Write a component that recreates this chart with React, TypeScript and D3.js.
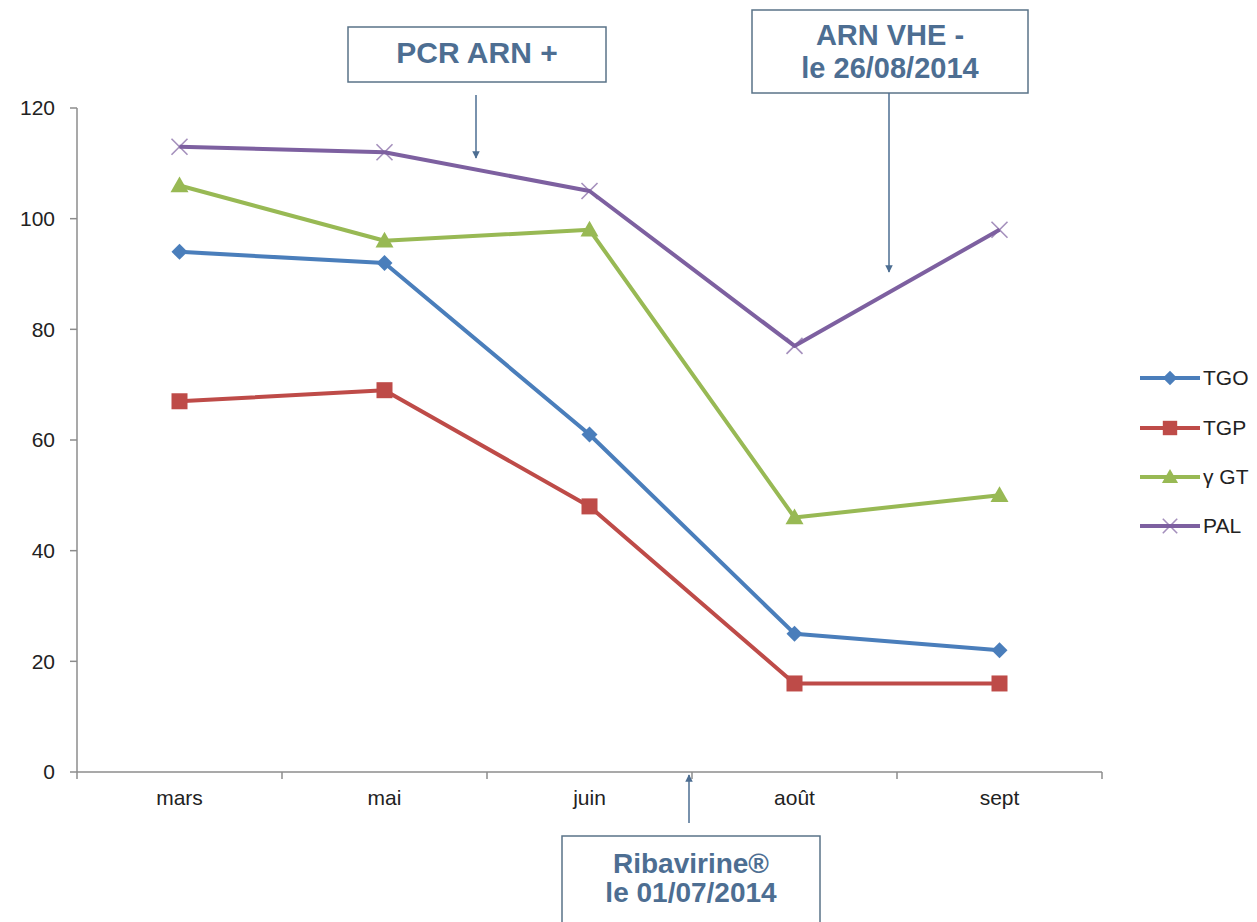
import React from "react";
import * as d3 from "d3";

const categories = ["mars", "mai", "juin", "août", "sept"];
const tgo = [94, 92, 61, 25, 22];
const tgp = [67, 69, 48, 16, 16];
const ggt = [106, 96, 98, 46, 50];
const pal = [113, 112, 105, 77, 98];
const yTicks = [0, 20, 40, 60, 80, 100, 120];

const seriesNames = ["TGO", "TGP", "γ GT", "PAL"];
const seriesColors = ["#4a7ebb", "#be4b48", "#98b954", "#7d60a0"];
const seriesMarkers = ["diamond", "square", "triangle", "x"];

export default function App() {
  const W = 1257, H = 922;
  const x0 = 77, x1 = 1102;
  const x = d3.scaleBand().domain(categories).range([x0, x1]);
  const y = d3.scaleLinear().domain([0, 120]).range([772, 108]);
  const cx = (c: string) => (x(c) as number) + x.bandwidth() / 2;
  const data = [tgo, tgp, ggt, pal];
  const line = d3.line<number>().x((_, i) => cx(categories[i])).y((d) => y(d));
  const annColor = "#4d6e92";
  const boxStroke = "#5a7388";

  const marker = (type: string, px: number, py: number, color: string, key: string, s = 1) => {
    if (type === "diamond") {
      const r = 8 * s;
      return <path key={key} d={`M${px},${py - r}L${px + r},${py}L${px},${py + r}L${px - r},${py}Z`} fill={color} />;
    }
    if (type === "square") {
      const r = 8 * s;
      return <rect key={key} x={px - r} y={py - r} width={2 * r} height={2 * r} fill={color} />;
    }
    if (type === "triangle") {
      const r = 9 * s;
      return <path key={key} d={`M${px},${py - r}L${px + r},${py + r * 0.75}L${px - r},${py + r * 0.75}Z`} fill={color} />;
    }
    const r = 8 * s;
    return (
      <g key={key} stroke={color} strokeWidth={1.6} strokeOpacity={0.7}>
        <line x1={px - r} y1={py - r} x2={px + r} y2={py + r} />
        <line x1={px - r} y1={py + r} x2={px + r} y2={py - r} />
      </g>
    );
  };

  const boundaries = d3.range(categories.length + 1).map((i) => x0 + i * x.step());
  const legendY = [378, 428, 477, 526];

  return (
    <svg width={W} height={H} style={{ position: "absolute", left: 0, top: 0, background: "#fff" }} fontFamily="Arial, Liberation Sans, sans-serif">
      {/* axes */}
      <line x1={x0} y1={y(120)} x2={x0} y2={y(0)} stroke="#8c8c8c" strokeWidth={1.5} />
      <line x1={x0} y1={y(0)} x2={x1} y2={y(0)} stroke="#8c8c8c" strokeWidth={1.5} />
      {yTicks.map((t) => (
        <g key={t}>
          <line x1={x0 - 7} x2={x0} y1={y(t)} y2={y(t)} stroke="#8c8c8c" strokeWidth={1.5} />
          <text x={55} y={y(t)} dy="0.35em" textAnchor="end" fontSize={21} fill="#222">{t}</text>
        </g>
      ))}
      {boundaries.map((b, i) => (
        <line key={i} x1={b} x2={b} y1={y(0)} y2={y(0) + 7} stroke="#8c8c8c" strokeWidth={1.5} />
      ))}
      {categories.map((c) => (
        <text key={c} x={cx(c)} y={798} dy="0.35em" textAnchor="middle" fontSize={21} fill="#222">{c}</text>
      ))}

      {/* series */}
      {data.map((vals, si) => (
        <g key={si}>
          <path d={line(vals) as string} fill="none" stroke={seriesColors[si]} strokeWidth={4} strokeLinejoin="round" />
          {vals.map((v, i) => marker(seriesMarkers[si], cx(categories[i]), y(v), seriesColors[si], `${si}-${i}`))}
        </g>
      ))}

      {/* legend */}
      {seriesNames.map((n, i) => {
        const ly = legendY[i];
        return (
          <g key={n}>
            <line x1={1140} x2={1200} y1={ly} y2={ly} stroke={seriesColors[i]} strokeWidth={4} />
            {marker(seriesMarkers[i], 1170, ly, seriesColors[i], `lg${i}`, 0.9)}
            <text x={1203} y={ly} dy="0.35em" fontSize={21} fill="#222">{n}</text>
          </g>
        );
      })}

      {/* annotations */}
      <defs>
        <marker id="arr" viewBox="0 0 10 10" refX="9" refY="5" markerWidth="5" markerHeight="5" orient="auto">
          <path d="M0,0L10,5L0,10Z" fill={annColor} />
        </marker>
      </defs>
      <rect x={348} y={27} width={258} height={55} fill="#fff" stroke={boxStroke} strokeWidth={1.5} />
      <text x={477} y={52} dy="0.35em" textAnchor="middle" fontSize={30} fontWeight="bold" fill={annColor}>PCR ARN +</text>
      <line x1={476} y1={95} x2={476} y2={158} stroke={annColor} strokeWidth={1.5} markerEnd="url(#arr)" />

      <rect x={752} y={10} width={276} height={83} fill="#fff" stroke={boxStroke} strokeWidth={1.5} />
      <text x={890} y={35} dy="0.35em" textAnchor="middle" fontSize={29} fontWeight="bold" fill={annColor}>ARN VHE -</text>
      <text x={890} y={68} dy="0.35em" textAnchor="middle" fontSize={29} fontWeight="bold" fill={annColor}>le 26/08/2014</text>
      <line x1={889} y1={93} x2={889} y2={272} stroke={annColor} strokeWidth={1.5} markerEnd="url(#arr)" />

      <rect x={562} y={836} width={258} height={100} fill="#fff" stroke={boxStroke} strokeWidth={1.5} />
      <text x={691} y={863} dy="0.35em" textAnchor="middle" fontSize={28} fontWeight="bold" fill={annColor}>Ribavirine®</text>
      <text x={691} y={892} dy="0.35em" textAnchor="middle" fontSize={28} fontWeight="bold" fill={annColor}>le 01/07/2014</text>
      <line x1={689} y1={823} x2={689} y2={775} stroke={annColor} strokeWidth={1.5} markerEnd="url(#arr)" />
    </svg>
  );
}
